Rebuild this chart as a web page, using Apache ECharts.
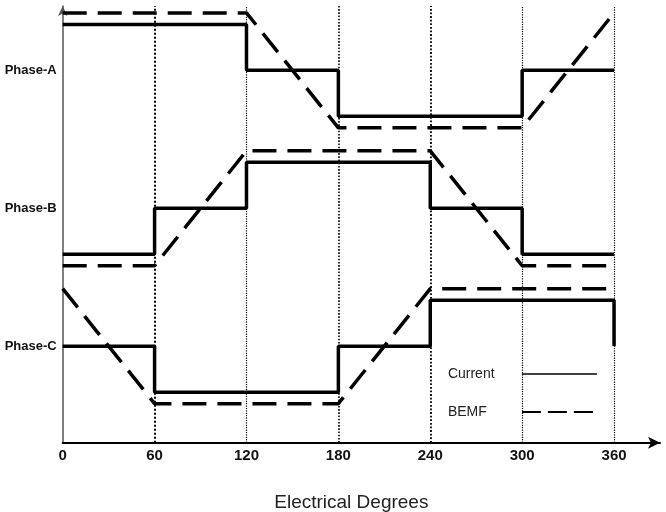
<!DOCTYPE html>
<html>
<head>
<meta charset="utf-8">
<script src="https://cdn.jsdelivr.net/npm/echarts@6/dist/echarts.min.js"></script>
<style>
html,body{margin:0;padding:0;background:#fff;}
#chart{width:666px;height:512px;}
</style>
</head>
<body>
<div id="chart"></div>
<script>
// ---- data ----
var xTickLabels = [0, 60, 120, 180, 240, 300, 360];
var phaseNames = ['Phase-C', 'Phase-B', 'Phase-A'];
var phaseOffsets = [0, 3, 6]; // C, B, A baselines

var phaseA_currentDeg   = [0, 120, 120, 180, 180, 300, 300, 360];
var phaseA_currentLevel = [1, 1, 0, 0, -1, -1, 0, 0];
var phaseA_bemfDeg      = [0, 120, 180, 300, 360];
var phaseA_bemfLevel    = [1.25, 1.25, -1.25, -1.25, 1.25];

var phaseB_currentDeg   = [0, 60, 60, 120, 120, 240, 240, 300, 300, 360];
var phaseB_currentLevel = [-1, -1, 0, 0, 1, 1, 0, 0, -1, -1];
var phaseB_bemfDeg      = [0, 60, 120, 240, 300, 360];
var phaseB_bemfLevel    = [-1.25, -1.25, 1.25, 1.25, -1.25, -1.25];

var phaseC_currentDeg   = [0, 60, 60, 180, 180, 240, 240, 360, 360];
var phaseC_currentLevel = [0, 0, -1, -1, 0, 0, 1, 1, 0];
var phaseC_bemfDeg      = [0, 60, 180, 240, 360];
var phaseC_bemfLevel    = [1.25, -1.25, -1.25, 1.25, 1.25];

function pts(deg, lvl, off) {
  return deg.map(function (d, i) { return [d, lvl[i] + off]; });
}

var currentStyle = { color: '#000', width: 3.5, type: 'solid' };
var bemfStyle = { color: '#000', width: 3.5, type: [24, 11] };

function mk(name, data, ls, extra) {
  var s = {
    name: name, type: 'line', data: data, symbol: 'none', silent: true,
    lineStyle: ls, itemStyle: { color: '#000' }, z: 3, animation: false
  };
  if (extra) for (var k in extra) s[k] = extra[k];
  return s;
}

var vlineWidths = { 60: 2, 120: 1.2, 180: 1.6, 240: 1.8, 300: 1.2, 360: 1.2 };

var series = [
  mk('Current', pts(phaseA_currentDeg, phaseA_currentLevel, phaseOffsets[2]), currentStyle, {
    markLine: {
      silent: true, symbol: 'none', label: { show: false }, animation: false,
      data: xTickLabels.slice(1).map(function (v) {
        return { xAxis: v, lineStyle: { type: 'dotted', color: '#000', width: vlineWidths[v] } };
      })
    }
  }),
  mk('BEMF', pts(phaseA_bemfDeg, phaseA_bemfLevel, phaseOffsets[2]), bemfStyle),
  mk('Current', pts(phaseB_currentDeg, phaseB_currentLevel, phaseOffsets[1]), currentStyle),
  mk('BEMF', pts(phaseB_bemfDeg, phaseB_bemfLevel, phaseOffsets[1]), bemfStyle),
  mk('Current', pts(phaseC_currentDeg, phaseC_currentLevel, phaseOffsets[0]), currentStyle),
  mk('BEMF', pts(phaseC_bemfDeg, phaseC_bemfLevel, phaseOffsets[0]), bemfStyle)
];

var chart = echarts.init(document.getElementById('chart'), null, { renderer: 'canvas' });
chart.setOption({
  animation: false,
  backgroundColor: '#fff',
  grid: { left: 62.7, right: 6, top: 6, bottom: 69.3, containLabel: false, outerBoundsMode: 'none' },
  xAxis: {
    type: 'value', min: 0, max: 390, interval: 60,
    name: 'Electrical Degrees', nameLocation: 'middle', nameGap: 51,
    nameTextStyle: { fontFamily: 'Liberation Sans, Arial', fontSize: 19, color: '#222', padding: [0, 20, 0, 0] },
    axisLine: { show: true, onZero: false, lineStyle: { color: '#000', width: 2 }, symbol: ['none', 'arrow'], symbolSize: [9, 12], symbolOffset: [0, 0] },
    axisTick: { show: false },
    splitLine: { show: false },
    axisLabel: {
      customValues: xTickLabels, margin: 6,
      fontFamily: 'Liberation Sans Narrow, Arial Narrow, Arial', fontWeight: 'bold', fontSize: 15, color: '#111'
    }
  },
  yAxis: {
    type: 'value', min: -2.1, max: 7.4,
    axisLine: { show: true, onZero: false, lineStyle: { color: '#555', width: 1.5 }, symbol: ['none', 'arrow'], symbolSize: [7, 10] },
    axisTick: { show: false },
    splitLine: { show: false },
    axisLabel: {
      customValues: phaseOffsets, margin: 6,
      formatter: function (v) { return phaseNames[phaseOffsets.indexOf(v)] || ''; },
      fontFamily: 'Liberation Sans, Arial', fontWeight: 'bold', fontSize: 13, color: '#111'
    }
  },
  legend: {
    orient: 'vertical', right: 63, top: 362, align: 'right',
    itemWidth: 75, itemHeight: 14, itemGap: 24,
    itemStyle: { color: 'rgba(0,0,0,0)', borderWidth: 0, opacity: 0 },
    formatter: function (name) { return '{t|' + name + '}'; },
    textStyle: {
      fontFamily: 'Liberation Sans, Arial', fontSize: 14, color: '#222', padding: [0, 19, 0, 0],
      rich: { t: { width: 50, align: 'left', fontFamily: 'Liberation Sans, Arial', fontSize: 14, color: '#222' } }
    },
    data: [
      { name: 'Current', lineStyle: { width: 1.5, type: 'solid', color: '#000' } },
      { name: 'BEMF', lineStyle: { width: 2.2, type: [19, 7], color: '#000' } }
    ],
    selectedMode: false
  },
  series: series
});
</script>
</body>
</html>
